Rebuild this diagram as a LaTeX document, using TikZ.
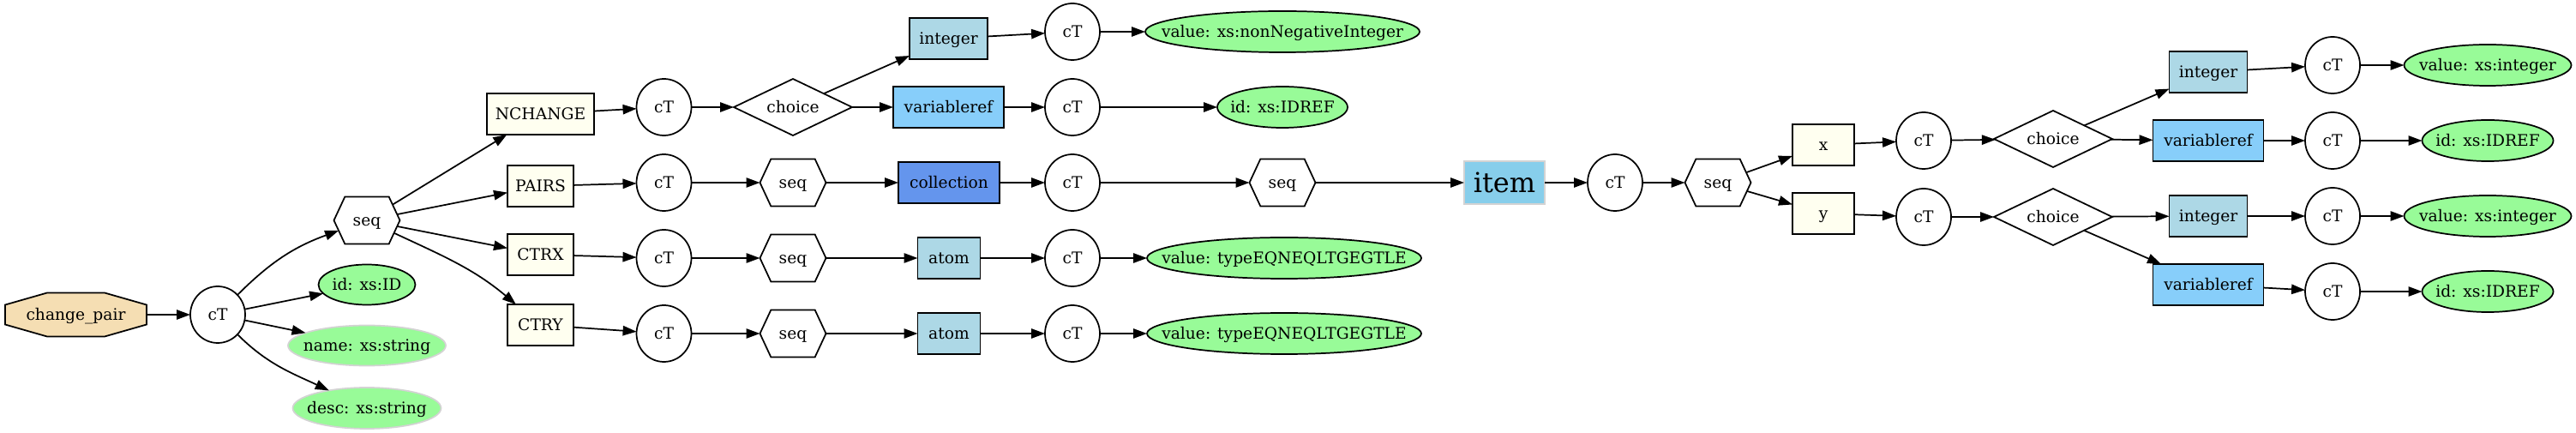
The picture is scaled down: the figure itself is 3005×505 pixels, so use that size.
\documentclass[tikz,border=0pt]{standalone}
\usepackage{fontspec}
\setmainfont{DejaVu Serif}
\usetikzlibrary{shapes.geometric,shapes.symbols,arrows.meta,backgrounds}
\definecolor{wheat}{HTML}{F5DEB3}
\definecolor{ivoryc}{HTML}{FFFFF0}
\definecolor{lblue}{HTML}{ADD8E6}
\definecolor{lsky}{HTML}{87CEFA}
\definecolor{cflower}{HTML}{6495ED}
\definecolor{skyb}{HTML}{87CEEB}
\definecolor{pgreen}{HTML}{98FB98}
\definecolor{lgray}{HTML}{D3D3D3}
\newcommand{\zw}[1]{\makebox[0pt]{#1}}
\begin{document}
\begin{tikzpicture}[x=0.75pt,y=-0.75pt,
  every node/.style={inner sep=0pt, outer sep=0pt, text height=12pt, text depth=1.5pt, font=\fontsize{14}{16}\selectfont},
  edge/.style={line width=1.3pt, -{Triangle[length=12pt,width=8.5pt]}},
  ct/.style={ellipse, draw, line width=1.3pt, fill=white, minimum width=48pt, minimum height=49.5pt},
  hexa/.style={signal, signal to=east and west, signal pointer angle=130, draw, line width=1.3pt, fill=white, minimum width=57.75pt, minimum height=41.25pt},
  chc/.style={diamond, aspect=2.1, draw, line width=1.3pt, fill=white, minimum width=103.5pt, minimum height=49.5pt},
  elbox/.style={rectangle, draw, line width=1.3pt, fill=ivoryc, minimum height=36pt},
  intbox/.style={rectangle, draw, line width=1.3pt, fill=lblue, minimum height=36pt, minimum width=68.25pt},
  varbox/.style={rectangle, draw, line width=1.3pt, fill=lsky, minimum height=36pt, minimum width=96.75pt},
  attr/.style={ellipse, draw, line width=1.3pt, fill=pgreen, minimum height=36pt},
  attrg/.style={attr, draw=lgray},
]
\useasboundingbox (0,0) rectangle (3005,505);

% root
\node[minimum width=123.75pt, minimum height=38.25pt] (cp) at (88.5,367) {change\_pair};
\begin{scope}[on background layer]
\draw[line width=1.3pt, fill=wheat]
  ([yshift=-10.5pt]cp.north west) -- ([xshift=36.75pt]cp.north west) -- ([xshift=-36.75pt]cp.north east) -- ([yshift=-10.5pt]cp.north east)
  -- ([yshift=10.5pt]cp.south east) -- ([xshift=-36.75pt]cp.south east) -- ([xshift=36.75pt]cp.south west) -- ([yshift=10.5pt]cp.south west) -- cycle;
\end{scope}
\node[ct] (ct1) at (254,367) {cT};
\node[attr, minimum width=84.75pt, minimum height=35.25pt] (idA) at (428,332) {\zw{id: xs:ID}};
\node[attrg, minimum width=138pt, minimum height=35.25pt] (nameA) at (428,403) {\zw{name: xs:string}};
\node[attrg, minimum width=129.75pt] (descA) at (428,476) {\zw{desc: xs:string}};
\node[hexa] (seq1) at (428,257) {seq};

% second level
\node[elbox, minimum width=93.75pt] (nch) at (630.5,133) {NCHANGE};
\node[elbox, minimum width=57.75pt] (pairs) at (630.5,217) {PAIRS};
\node[elbox, minimum width=57.75pt] (ctrx) at (630.5,297) {CTRX};
\node[elbox, minimum width=57.75pt] (ctry) at (630.5,379) {CTRY};

\node[ct] (ctN) at (774.5,125) {cT};
\node[ct] (ctP) at (774.5,213) {cT};
\node[ct] (ctX) at (774.5,301) {cT};
\node[ct] (ctY) at (774.5,389) {cT};

\node[chc] (choN) at (925,125) {choice};
\node[hexa] (seqP) at (925,213) {seq};
\node[hexa] (seqX) at (925,301) {seq};
\node[hexa] (seqY) at (925,389) {seq};

\node[intbox] (intN) at (1106.5,45) {integer};
\node[varbox] (varN) at (1106.5,125) {variableref};
\node[rectangle, draw, line width=1.3pt, fill=cflower, minimum height=36pt, minimum width=88.5pt] (coll) at (1107,213) {collection};
\node[intbox, minimum width=54.75pt] (atomX) at (1107,301) {atom};
\node[intbox, minimum width=54.75pt] (atomY) at (1107,389) {atom};

\node[ct] (ctNi) at (1251,37) {cT};
\node[ct] (ctNv) at (1251,125) {cT};
\node[ct] (ctC) at (1251,213) {cT};
\node[ct] (ctAX) at (1251,301) {cT};
\node[ct] (ctAY) at (1251,389) {cT};

\node[attr, minimum width=240pt] (valN) at (1496,37) {\zw{value: xs:nonNegativeInteger}};
\node[attr, minimum width=114pt] (idrN) at (1496,125) {\zw{id: xs:IDREF}};
\node[hexa] (seqC) at (1496,213) {seq};
\node[attr, minimum width=240pt] (valX) at (1498,301) {\zw{value: typeEQNEQLTGEGTLE}};
\node[attr, minimum width=240pt] (valY) at (1498,389) {\zw{value: typeEQNEQLTGEGTLE}};

% item subtree
\node[rectangle, draw=lgray, line width=1.3pt, fill=skyb, minimum width=70.5pt, minimum height=37.5pt, font=\fontsize{24}{28}\selectfont, text height=20pt, text depth=2pt] (item) at (1755,213) {item};
\node[ct] (ctI) at (1884,213) {cT};
\node[hexa] (seqI) at (2004,213) {seq};
\node[elbox, minimum width=54pt] (xb) at (2127,169) {x};
\node[elbox, minimum width=54pt] (yb) at (2127,249) {y};
\node[ct] (ctx) at (2244,164) {cT};
\node[ct] (cty) at (2244,253) {cT};
\node[chc] (chox) at (2395,162) {choice};
\node[chc] (choy) at (2395,253) {choice};
\node[intbox] (intx) at (2576,84) {integer};
\node[varbox] (varx) at (2576,164) {variableref};
\node[intbox] (inty) at (2576,252) {integer};
\node[varbox] (vary) at (2576,332) {variableref};
\node[ct] (ctxi) at (2721,76) {cT};
\node[ct] (ctxv) at (2721,164) {cT};
\node[ct] (ctyi) at (2721,252) {cT};
\node[ct] (ctyv) at (2721,340) {cT};
\node[attr, minimum width=146.25pt] (valxi) at (2902,76) {\zw{value: xs:integer}};
\node[attr, minimum width=114.75pt] (idxv) at (2902,164) {\zw{id: xs:IDREF}};
\node[attr, minimum width=146.25pt] (valyi) at (2902,252) {\zw{value: xs:integer}};
\node[attr, minimum width=114.75pt] (idyv) at (2902,340) {\zw{id: xs:IDREF}};

% edges
\draw[edge] (cp) -- (ct1);
\draw[edge] (ct1) to[out=45, in=200] (seq1);
\draw[edge] (ct1) -- (idA);
\draw[edge] (ct1) -- (nameA);
\draw[edge] (ct1) to[out=-45, in=155] (descA);
\draw[edge] (seq1) -- (nch);
\draw[edge] (seq1) -- (pairs);
\draw[edge] (seq1) -- (ctrx);
\draw[edge] (seq1) to[out=-25, in=140] (ctry);

\draw[edge] (nch) -- (ctN);
\draw[edge] (ctN) -- (choN);
\draw[edge] (choN) -- (intN);
\draw[edge] (choN) -- (varN);
\draw[edge] (intN) -- (ctNi);
\draw[edge] (ctNi) -- (valN);
\draw[edge] (varN) -- (ctNv);
\draw[edge] (ctNv) -- (idrN);

\draw[edge] (pairs) -- (ctP);
\draw[edge] (ctP) -- (seqP);
\draw[edge] (seqP) -- (coll);
\draw[edge] (coll) -- (ctC);
\draw[edge] (ctC) -- (seqC);
\draw[edge] (seqC) -- (item);
\draw[edge] (item) -- (ctI);
\draw[edge] (ctI) -- (seqI);
\draw[edge] (seqI) -- (xb);
\draw[edge] (seqI) -- (yb);
\draw[edge] (xb) -- (ctx);
\draw[edge] (yb) -- (cty);
\draw[edge] (ctx) -- (chox);
\draw[edge] (cty) -- (choy);
\draw[edge] (chox) -- (intx);
\draw[edge] (chox) -- (varx);
\draw[edge] (choy) -- (inty);
\draw[edge] (choy) -- (vary);
\draw[edge] (intx) -- (ctxi);
\draw[edge] (varx) -- (ctxv);
\draw[edge] (inty) -- (ctyi);
\draw[edge] (vary) -- (ctyv);
\draw[edge] (ctxi) -- (valxi);
\draw[edge] (ctxv) -- (idxv);
\draw[edge] (ctyi) -- (valyi);
\draw[edge] (ctyv) -- (idyv);

\draw[edge] (ctrx) -- (ctX);
\draw[edge] (ctX) -- (seqX);
\draw[edge] (seqX) -- (atomX);
\draw[edge] (atomX) -- (ctAX);
\draw[edge] (ctAX) -- (valX);
\draw[edge] (ctry) -- (ctY);
\draw[edge] (ctY) -- (seqY);
\draw[edge] (seqY) -- (atomY);
\draw[edge] (atomY) -- (ctAY);
\draw[edge] (ctAY) -- (valY);
\end{tikzpicture}
\end{document}
